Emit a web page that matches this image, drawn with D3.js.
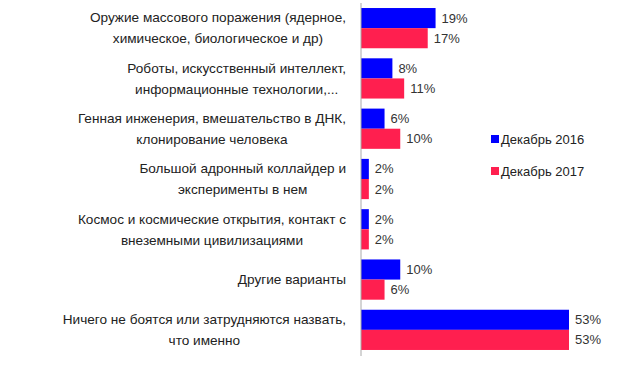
<!DOCTYPE html>
<html>
<head>
<meta charset="utf-8">
<script src="https://cdn.jsdelivr.net/npm/d3@7"></script>
<style>
  body { margin: 0; background: #fff; }
</style>
</head>
<body>
<div id="chart"></div>
<script>
let categories = [
    ["Оружие массового поражения (ядерное,", "химическое, биологическое и др)"],
    ["Роботы, искусственный интеллект,", "информационные технологии,..."],
    ["Генная инженерия, вмешательство в ДНК,", "клонирование человека"],
    ["Большой адронный коллайдер и", "эксперименты в нем"],
    ["Космос и космические открытия, контакт с", "внеземными цивилизациями"],
    ["Другие варианты"],
    ["Ничего не боятся или затрудняются назвать,", "что именно"]
];
let seriesNames = ["Декабрь 2016", "Декабрь 2017"];
let dec2016 = [19, 8, 6, 2, 2, 10, 53];
let dec2017 = [17, 11, 10, 2, 2, 6, 53];

let colors = ["#0000ff", "#ff1f4f"];

let width = 640, height = 372;
let svg = d3.select("#chart").append("svg")
    .attr("width", width)
    .attr("height", height);

let data = categories.map(function(c, i){
    return {cat: i, lines: c, values: [dec2016[i], dec2017[i]]};
});

let x = d3.scaleLinear()
    .domain([0, 53])
    .range([361, 569]);

let y = d3.scaleBand()
    .domain(d3.range(categories.length))
    .range([3, 355])
    .paddingInner(0.2)
    .paddingOuter(0.1);

let inner = d3.scaleBand()
    .domain([0, 1])
    .range([0, y.bandwidth()]);

// bars
let groups = svg.append("g").selectAll("g")
    .data(data)
    .enter()
    .append("g")
    .attr("transform", d => "translate(0," + y(d.cat) + ")");

groups.selectAll("rect")
    .data(d => d.values.map((v, s) => ({v: v, s: s})))
    .enter()
    .append("rect")
    .attr("x", x(0))
    .attr("y", d => inner(d.s))
    .attr("width", d => x(d.v) - x(0))
    .attr("height", inner.bandwidth())
    .attr("fill", d => colors[d.s]);

groups.selectAll("text.val")
    .data(d => d.values.map((v, s) => ({v: v, s: s})))
    .enter()
    .append("text")
    .attr("class", "val")
    .attr("x", d => x(d.v) + 6)
    .attr("y", d => inner(d.s) + inner.bandwidth() / 2)
    .attr("dy", "0.35em")
    .style("font-family", "Liberation Sans, Arial, sans-serif")
    .style("font-size", "13px")
    .style("fill", "#333")
    .text(d => d.v + "%");

// axis line
svg.append("line")
    .attr("x1", x(0)).attr("x2", x(0))
    .attr("y1", 3).attr("y2", 356)
    .attr("stroke", "#aaa")
    .attr("stroke-width", 1);

// category labels
let labels = svg.append("g").selectAll("text")
    .data(data)
    .enter()
    .append("text")
    .style("font-family", "Liberation Sans, Arial, sans-serif")
    .style("font-size", "13.6px")
    .style("fill", "#222");

labels.each(function(d){
    let t = d3.select(this);
    let c = y(d.cat) + y.bandwidth() / 2;
    let n = d.lines.length;
    d.lines.forEach(function(line, i){
        t.append("tspan")
            .attr("x", 346)
            .attr("text-anchor", "end")
            .attr("y", c + (i - (n - 1) / 2) * 21)
            .attr("dy", "0.35em")
            .text(line);
    });
});

// centre second lines under the first one
labels.each(function(d){
    if (d.lines.length < 2) return;
    let spans = d3.select(this).selectAll("tspan").nodes();
    let w0 = spans[0].getComputedTextLength();
    let mid = 346 - w0 / 2;
    d3.select(spans[1]).attr("x", mid).attr("text-anchor", "middle");
});

// legend
let legend = svg.append("g").selectAll("g")
    .data(seriesNames)
    .enter()
    .append("g")
    .attr("transform", (d, i) => "translate(491," + (135 + i * 32) + ")");

legend.append("rect")
    .attr("width", 8)
    .attr("height", 8)
    .attr("fill", (d, i) => colors[i]);

legend.append("text")
    .attr("x", 10)
    .attr("y", 4)
    .attr("dy", "0.35em")
    .style("font-family", "Liberation Sans, Arial, sans-serif")
    .style("font-size", "13px")
    .style("fill", "#222")
    .text(d => d);
</script>
</body>
</html>
